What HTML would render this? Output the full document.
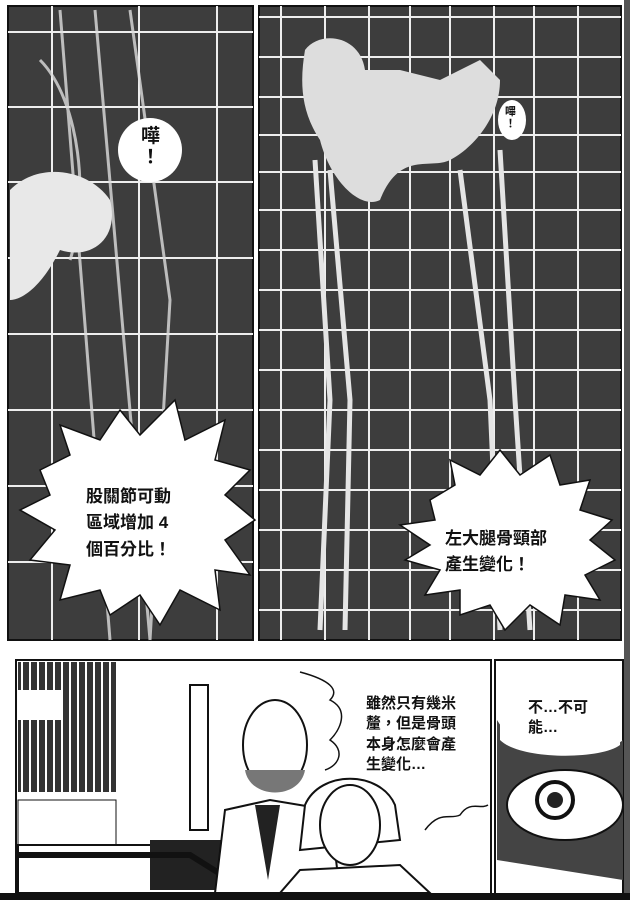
<!DOCTYPE html>
<html><head><meta charset="utf-8"><style>
html,body{margin:0;padding:0;background:#fff}
body{width:630px;height:900px;overflow:hidden;position:relative;font-family:"Liberation Sans","Noto Sans CJK TC",sans-serif}
svg{position:absolute;left:0;top:0}
.t{position:absolute;font-weight:bold;color:#111;line-height:1.3}
</style></head><body>
<svg width="630" height="900" viewBox="0 0 630 900">
<defs>
<pattern id="g1" x="0" y="0" width="85" height="75" patternUnits="userSpaceOnUse">
<rect width="85" height="75" fill="none"/>
</pattern>
</defs>
<rect width="630" height="900" fill="#fff"/>
<rect x="624" y="0" width="6" height="900" fill="#555"/>
<rect x="0" y="893" width="630" height="7" fill="#111"/>
<!-- top left panel -->
<rect x="8" y="6" width="245" height="634" fill="#3d3d3d" stroke="#111" stroke-width="2"/>
<g stroke="#eee" stroke-width="2">
<line x1="52" y1="6" x2="52" y2="640"/><line x1="139" y1="6" x2="139" y2="640"/><line x1="217" y1="6" x2="217" y2="640"/>
<line x1="8" y1="32" x2="253" y2="32"/><line x1="8" y1="107" x2="253" y2="107"/><line x1="8" y1="182" x2="253" y2="182"/><line x1="8" y1="258" x2="253" y2="258"/><line x1="8" y1="334" x2="253" y2="334"/><line x1="8" y1="410" x2="253" y2="410"/><line x1="8" y1="486" x2="253" y2="486"/><line x1="8" y1="562" x2="253" y2="562"/>
</g>
<g fill="none" stroke="#ddd" stroke-width="3" opacity="0.8">
<path d="M60 10 L110 640"/><path d="M95 10 L150 640"/><path d="M130 10 L170 300 L150 640"/><path d="M40 60 C80 100 90 200 70 260"/>
</g>
<path d="M10 190 C40 160 90 170 110 200 C120 240 90 260 60 250 C40 290 20 300 10 300Z" fill="#e8e8e8"/>
<!-- top right panel -->
<rect x="259" y="6" width="362" height="634" fill="#3d3d3d" stroke="#111" stroke-width="2"/>
<g stroke="#eee" stroke-width="2">
<line x1="281" y1="6" x2="281" y2="640"/><line x1="325" y1="6" x2="325" y2="640"/><line x1="369" y1="6" x2="369" y2="640"/><line x1="410" y1="6" x2="410" y2="640"/><line x1="450" y1="6" x2="450" y2="640"/><line x1="494" y1="6" x2="494" y2="640"/><line x1="534" y1="6" x2="534" y2="640"/><line x1="578" y1="6" x2="578" y2="640"/>
<line x1="259" y1="17" x2="621" y2="17"/><line x1="259" y1="57" x2="621" y2="57"/><line x1="259" y1="97" x2="621" y2="97"/><line x1="259" y1="135" x2="621" y2="135"/><line x1="259" y1="172" x2="621" y2="172"/><line x1="259" y1="210" x2="621" y2="210"/><line x1="259" y1="250" x2="621" y2="250"/><line x1="259" y1="290" x2="621" y2="290"/><line x1="259" y1="330" x2="621" y2="330"/><line x1="259" y1="370" x2="621" y2="370"/><line x1="259" y1="410" x2="621" y2="410"/><line x1="259" y1="450" x2="621" y2="450"/><line x1="259" y1="490" x2="621" y2="490"/><line x1="259" y1="530" x2="621" y2="530"/><line x1="259" y1="570" x2="621" y2="570"/><line x1="259" y1="610" x2="621" y2="610"/>
</g>
<path d="M305 50 C320 30 360 35 365 70 L400 70 L440 80 L480 60 L500 80 C500 120 470 150 450 160 C430 170 400 150 380 200 C360 210 330 180 320 140 C300 110 300 80 305 50Z" fill="#ddd"/>
<g fill="none" stroke="#e5e5e5" stroke-width="5">
<path d="M330 170 L350 400 L345 630"/><path d="M460 170 L490 400 L500 630"/>
<path d="M315 160 L330 400 L320 630"/><path d="M500 150 L515 400 L530 630"/>
</g>
<!-- bubbles -->
<circle cx="150" cy="150" r="32" fill="#fff"/>
<ellipse cx="512" cy="120" rx="14" ry="20" fill="#fff"/>
<polygon fill="#fff" stroke="#111" stroke-width="1.5" points="40,470 70,455 60,425 100,440 120,410 140,435 175,400 185,440 225,420 215,460 250,470 225,495 255,520 225,540 250,575 215,570 220,610 180,590 160,625 140,595 110,615 100,590 60,600 70,565 30,560 55,530 20,510 50,495"/>
<polygon fill="#fff" stroke="#111" stroke-width="1.5" points="430,500 455,485 450,460 480,475 500,450 520,475 550,455 560,485 590,480 580,510 612,520 590,540 615,560 585,575 600,600 565,595 560,625 530,605 505,630 490,605 460,615 460,590 425,595 440,570 405,560 430,545 400,525 435,520"/>
<!-- bottom panels -->
<rect x="16" y="660" width="475" height="234" fill="#fff" stroke="#111" stroke-width="2"/>
<rect x="495" y="660" width="128" height="234" fill="#fff" stroke="#111" stroke-width="2"/>
<rect x="18" y="662" width="98" height="130" fill="#333"/>
<g stroke="#fff" stroke-width="2"><line x1="22" y1="662" x2="22" y2="792"/><line x1="30" y1="662" x2="30" y2="792"/><line x1="38" y1="662" x2="38" y2="792"/><line x1="46" y1="662" x2="46" y2="792"/><line x1="54" y1="662" x2="54" y2="792"/><line x1="62" y1="662" x2="62" y2="792"/><line x1="70" y1="662" x2="70" y2="792"/><line x1="78" y1="662" x2="78" y2="792"/><line x1="86" y1="662" x2="86" y2="792"/><line x1="94" y1="662" x2="94" y2="792"/><line x1="102" y1="662" x2="102" y2="792"/><line x1="110" y1="662" x2="110" y2="792"/></g>
<rect x="18" y="690" width="45" height="30" fill="#fff"/>
<rect x="18" y="800" width="98" height="45" fill="#fff" stroke="#111"/>
<rect x="18" y="845" width="200" height="48" fill="#fff" stroke="#111" stroke-width="2"/>
<rect x="150" y="840" width="80" height="50" fill="#222"/>
<path d="M18 855 L190 855 L230 880" stroke="#111" fill="none" stroke-width="6"/>
<rect x="190" y="685" width="18" height="145" fill="#fff" stroke="#111" stroke-width="2"/>
<!-- old man -->
<ellipse cx="275" cy="745" rx="32" ry="45" fill="#fff" stroke="#111" stroke-width="2"/>
<path d="M245 770 C250 800 300 800 305 770" fill="#777"/>
<path d="M215 893 L225 810 L270 800 L330 810 L340 893Z" fill="#fff" stroke="#111" stroke-width="2"/>
<path d="M255 805 L268 880 L280 805Z" fill="#222"/>
<!-- young man -->
<path d="M305 805 C320 770 380 770 395 805 L400 840 L300 850Z" fill="#fff" stroke="#111" stroke-width="2"/>
<ellipse cx="350" cy="825" rx="30" ry="40" fill="#fff" stroke="#111" stroke-width="2"/>
<path d="M280 893 L300 870 L400 865 L430 893Z" fill="#fff" stroke="#111" stroke-width="2"/>
<!-- wavy bubble edges -->
<path d="M300 672 C330 680 340 690 330 700 C350 710 340 730 330 740 C345 750 340 765 325 770" fill="none" stroke="#111" stroke-width="1.5"/>
<path d="M425 830 C440 810 450 820 460 815 C470 800 480 810 488 805" fill="none" stroke="#111" stroke-width="1.5"/>
<!-- eye panel -->
<path d="M497 720 C520 760 600 760 623 740 L623 880 L497 860Z" fill="#444"/>
<ellipse cx="565" cy="805" rx="58" ry="35" fill="#fff" stroke="#111" stroke-width="2"/>
<circle cx="555" cy="800" r="18" fill="#fff" stroke="#111" stroke-width="4"/>
<circle cx="555" cy="800" r="8" fill="#222"/>
<path d="M500 675 C520 665 600 665 620 680 L620 745 C600 760 520 760 500 740Z" fill="#fff"/>
</svg>
<div class="t" style="left:141px;top:127px;font-size:19px;width:20px;line-height:1.1">嘩<br>！</div>
<div class="t" style="left:505px;top:106px;font-size:11px;width:12px;line-height:1.1">嗶<br>！</div>
<div class="t" style="left:86px;top:484px;font-size:17px;width:140px;line-height:1.55">股關節可動<br>區域增加 4<br>個百分比！</div>
<div class="t" style="left:445px;top:526px;font-size:17px;width:150px;line-height:1.5">左大腿骨頸部<br>產生變化！</div>
<div class="t" style="left:366px;top:694px;font-size:15px;width:130px;line-height:1.35">雖然只有幾米<br>釐，但是骨頭<br>本身怎麼會產<br>生變化…</div>
<div class="t" style="left:528px;top:698px;font-size:15px;width:90px;line-height:1.35">不…不可<br>能…</div>
</body></html>
